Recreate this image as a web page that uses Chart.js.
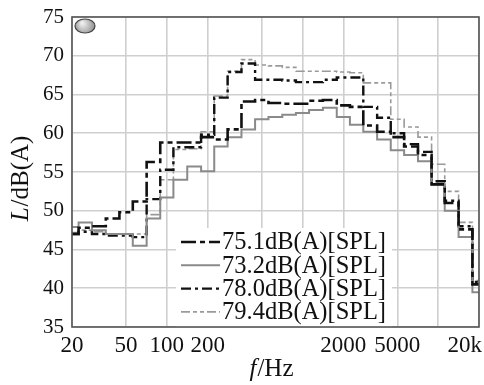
<!DOCTYPE html>
<html>
<head>
<meta charset="utf-8">
<script src="https://cdn.jsdelivr.net/npm/chart.js@4.4.1/dist/chart.umd.min.js"></script>
<style>
  html, body { margin: 0; padding: 0; background: #fff; }
  #wrap { width: 484px; height: 385px; }
</style>
</head>
<body>
<div id="wrap"><canvas id="spectrumChart" width="484" height="385"></canvas></div>
<script>
// 1/3-octave band centres (Hz)
const bands = [20, 25, 31.5, 40, 50, 63, 80, 100, 125, 160,
  200, 250, 315, 400, 500, 630, 800, 1000, 1250, 1600,
  2000, 2500, 3150, 4000, 5000, 6300, 8000, 10000, 12500, 16000, 20000];

const seriesLabels = ['75.1dB(A)[SPL]', '73.2dB(A)[SPL]', '78.0dB(A)[SPL]', '79.4dB(A)[SPL]'];

// band levels, dB(A)
const level751 = [47.0, 47.8, 48.0, 49.0, 49.8, 51.2, 56.3, 58.8, 58.8, 58.8,
  59.5, 59.2, 60.5, 64.1, 64.3, 63.9, 63.8, 63.8, 64.2, 64.3,
  63.6, 63.4, 61.0, 60.2, 59.5, 58.3, 57.2, 53.4, 51.0, 47.6, 40.5];
const level732 = [47.9, 48.5, 47.5, 47.0, 47.0, 45.5, 49.0, 51.7, 54.0, 55.7,
  55.1, 58.3, 59.5, 60.5, 61.8, 62.1, 62.4, 62.6, 63.0, 63.3,
  62.1, 61.1, 60.2, 59.2, 57.8, 57.2, 56.4, 53.4, 50.0, 46.6, 39.5];
const level780 = [47.0, 47.3, 47.0, 46.8, 46.8, 46.6, 51.5, 55.3, 58.2, 58.2,
  59.8, 64.6, 67.9, 69.0, 66.9, 66.9, 66.8, 66.6, 66.6, 66.9,
  67.2, 67.2, 63.4, 62.0, 60.0, 58.6, 57.6, 53.8, 51.3, 48.0, 40.8];
const level794 = [47.2, 47.5, 47.3, 47.0, 47.0, 47.0, 49.5, 54.0, 57.9, 58.0,
  60.2, 64.8, 68.0, 69.5, 68.8, 68.7, 68.5, 68.0, 68.0, 68.0,
  67.9, 67.8, 66.5, 66.5, 61.8, 60.8, 59.5, 56.0, 52.5, 48.5, 41.0];

const xTicks = [20, 50, 100, 200, 500, 1000, 2000, 5000, 10000, 20000];
const xTickLabels = ['20', '50', '100', '200', '', '', '2000', '5000', '', '20k'];
const yMin = 35, yMax = 75, yStep = 5;

const serif = '"Liberation Serif", "DejaVu Serif", serif';

function toPoints(levels) {
    return bands.map((f, i) => ({ x: f, y: levels[i] }));
}

const styles = [
    { color: '#111', width: 2.6, dash: [15, 4, 5, 4] },
    { color: '#8a8a8a', width: 2, dash: [] },
    { color: '#111', width: 2.4, dash: [10, 4, 3, 4] },
    { color: '#9a9a9a', width: 1.6, dash: [9, 3, 4, 3, 4, 3] }
];

const allLevels = [level751, level732, level780, level794];

const datasets = allLevels.map((lv, i) => ({
    label: seriesLabels[i],
    data: toPoints(lv),
    borderColor: styles[i].color,
    borderWidth: styles[i].width,
    borderDash: styles[i].dash,
    stepped: 'middle',
    pointRadius: 0,
    fill: false
}));

// legend, frame, button and axis titles drawn on top
const decorPlugin = {
    id: 'decor',
    afterDatasetsDraw(chart) {
        const ctx = chart.ctx;
        const a = chart.chartArea;
        ctx.save();

        // legend box
        ctx.fillStyle = '#fff';
        ctx.fillRect(176, 228, 216, a.bottom - 228);
        ctx.font = '24.5px ' + serif;
        ctx.textBaseline = 'middle';
        ctx.textAlign = 'left';
        chart.data.datasets.forEach((ds, i) => {
            const y = 242 + i * 23.3;
            ctx.beginPath();
            ctx.strokeStyle = ds.borderColor;
            ctx.lineWidth = ds.borderWidth;
            ctx.setLineDash(ds.borderDash);
            ctx.moveTo(181, y);
            ctx.lineTo(220, y);
            ctx.stroke();
            ctx.setLineDash([]);
            ctx.fillStyle = '#111';
            ctx.fillText(ds.label, 222, y + 1);
        });

        // frame
        ctx.strokeStyle = '#555';
        ctx.lineWidth = 1.6;
        ctx.strokeRect(a.left, a.top, a.right - a.left, a.bottom - a.top);

        // little grey button, top left
        const g = ctx.createRadialGradient(82, 23, 1, 85, 26, 11);
        g.addColorStop(0, '#eee');
        g.addColorStop(1, '#888');
        ctx.beginPath();
        ctx.ellipse(85, 26, 10, 7, 0, 0, Math.PI * 2);
        ctx.fillStyle = g;
        ctx.fill();
        ctx.lineWidth = 1.2;
        ctx.strokeStyle = '#444';
        ctx.stroke();

        // axis titles, italic symbol + upright unit
        ctx.fillStyle = '#111';
        ctx.textBaseline = 'middle';
        const drawTitle = (sym, unit, size) => {
            ctx.font = 'italic ' + size + 'px ' + serif;
            const w1 = ctx.measureText(sym).width;
            ctx.font = size + 'px ' + serif;
            const w2 = ctx.measureText(unit).width;
            const x0 = -(w1 + w2) / 2;
            ctx.font = 'italic ' + size + 'px ' + serif;
            ctx.textAlign = 'left';
            ctx.fillText(sym, x0, 0);
            ctx.font = size + 'px ' + serif;
            ctx.fillText(unit, x0 + w1 + 1, 0);
        };
        ctx.save();
        ctx.translate(21, 179);
        ctx.rotate(-Math.PI / 2);
        drawTitle('L', '/dB(A)', 25);
        ctx.restore();

        ctx.save();
        ctx.translate(271, 369);
        drawTitle('f', '/Hz', 25);
        ctx.restore();

        ctx.restore();
    }
};

const ctx = document.getElementById('spectrumChart').getContext('2d');
new Chart(ctx, {
    type: 'line',
    data: { datasets: datasets },
    options: {
        responsive: false,
        animation: false,
        layout: { padding: { top: 17, right: 5, left: 0, bottom: 0 } },
        plugins: {
            legend: { display: false },
            tooltip: { enabled: false }
        },
        scales: {
            x: {
                type: 'logarithmic',
                min: 20,
                max: 20000,
                afterBuildTicks: (scale) => {
                    scale.ticks = xTicks.map(v => ({ value: v }));
                },
                afterFit: (scale) => {
                    scale.height = 58;
                    scale.paddingLeft = 0;
                    scale.paddingRight = 0;
                },
                grid: { color: '#cfcfcf', lineWidth: 1.6, drawTicks: false },
                border: { display: false },
                ticks: {
                    autoSkip: false,
                    maxRotation: 0,
                    padding: 5,
                    color: '#111',
                    font: { family: serif, size: 23 },
                    // last label pushed left with trailing spaces so it ends at the frame
                    callback: (v, i) => i === xTicks.length - 1 ? xTickLabels[i] + '     ' : xTickLabels[i]
                }
            },
            y: {
                min: yMin,
                max: yMax,
                afterFit: (scale) => {
                    scale.width = 72;
                    scale.paddingTop = 0;
                    scale.paddingBottom = 0;
                },
                grid: { color: '#cfcfcf', lineWidth: 1.6, drawTicks: false },
                border: { display: false },
                ticks: {
                    stepSize: yStep,
                    padding: 8,
                    color: '#111',
                    font: { family: serif, size: 21 }
                }
            }
        }
    },
    plugins: [decorPlugin]
});
</script>
</body>
</html>
